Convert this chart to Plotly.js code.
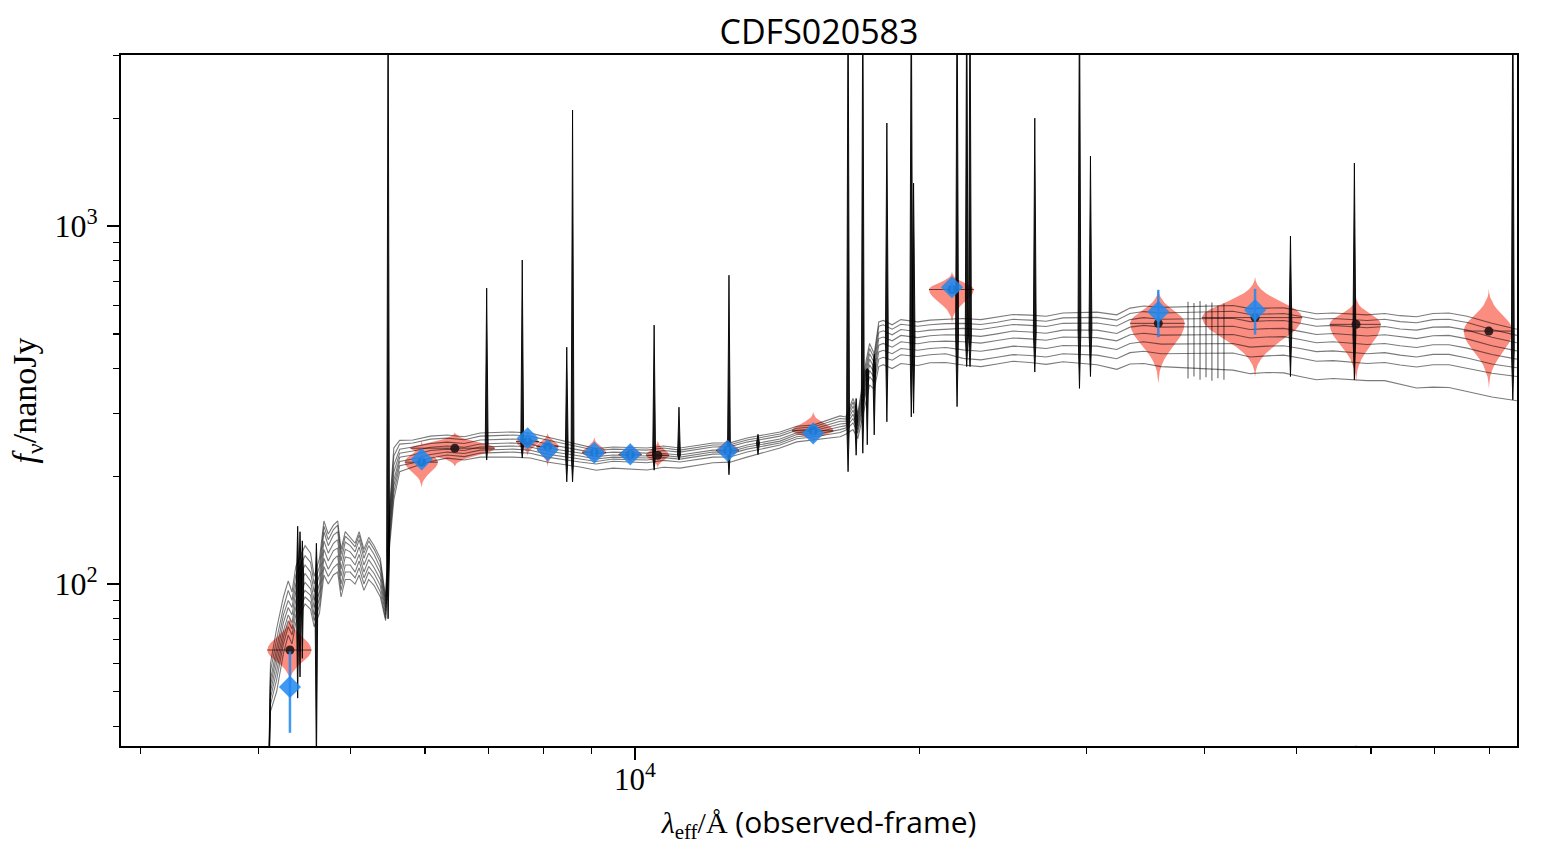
<!DOCTYPE html>
<html>
<head>
<meta charset="utf-8">
<script src="https://cdn.plot.ly/plotly-3.0.1.min.js"></script>
<style>
  html, body { margin: 0; padding: 0; background: #ffffff; }
  #chart { width: 1545px; height: 859px; }
</style>
</head>
<body>
<div id="chart"></div>
<script>
// ---------------------------------------------------------------
// SED fit of CDFS020583: posterior model spectra, model photometry
// (violins + medians) and observed photometry.
// Wavelengths in Angstrom (observed frame), fluxes in nanoJy.
// ---------------------------------------------------------------

// Shared wavelength grid of the model continua
const wave = [
  4090, 4118, 4180, 4250, 4300, 4340, 4380, 4480, 4540, 4580, 4640, 4690, 4740,
  4800, 4850, 4890, 4940, 5000, 5060, 5110, 5170, 5230, 5300, 5380, 5450,
  5500, 5560, 5640,
  5825, 6080, 6329, 6600, 6860, 7430, 7750, 8072, 8748, 9100, 9478, 10297, 10720,
  11158, 12090, 12600, 13134, 14233, 14820, 15425, 16473,
  16700, 17000, 17200, 17550, 17700, 17900, 18100, 18300, 18700, 19100, 19900, 20503,
  21300, 22224, 23200, 24138, 25100, 26155, 27200, 28340, 30780, 32300, 33360, 34500,
  36000, 42870, 44700, 46580, 48500, 50470, 52500, 54690, 59400, 62000, 64380, 67000,
  69750, 72500, 75770, 80500, 85550
];

// Posterior draws of the model continuum
const model1 = [20,60,75,92,102,95,112,128,122,105,118,150,138,146,150,125,140,135,130,140,125,135,128,118,92,
  160,240,252,
  252.5,259,260.8,258,264.3,266,264,257.4,244.5,239,241.4,239.9,243,239.9,247.8,248,255.9,266,276,278,295,
  293,330,300,420,470,440,540,545,530,548,540,546,550,552,548,556,566,564,560,572,575,565,590,598,593,600,588,590,591,580,569,572,565,570,562,558,570,572,560,535,515];
const model2 = [20,57,70,86,96,90,106,120,115,100,112,145,133,142,146,121,136,132,127,137,122,132,125,115,90,
  155,228,246,
  247.7,254,255.6,253,259,260.8,259,252.5,241.4,236,238.2,236.7,240,236.7,244.5,245,252.5,262.5,272.5,274.5,290,
  289,322,294,405,455,428,525,530,515,532,525,530,534,535,531,539,549,546,542,554,556,546,570,577,572,578,566,568,570,560,549,552,545,549,541,537,548,549,538,514,495];
const model3 = [20,54,66,82,90,86,100,113,108,95,106,140,128,137,140,116,131,128,123,133,118,128,121,111,88,
  150,215,238,
  241.4,247,249.2,247,252.5,254.1,252.5,246.1,236.7,231.5,233.7,232.2,236,233.7,241.4,242,249.2,259,269,270.9,285,
  285,314,288,392,440,415,505,510,497,514,507,512,516,518,514,522,531,528,524,535,536,526,548,555,549,553,541,544,545,535,525,528,520,524,516,512,522,523,512,489,472];
const model4 = [20,52,63,78,86,82,95,107,102,90,100,132,122,130,133,110,125,123,118,127,113,122,116,107,86,
  145,205,232,
  235.2,241,243,241,246.1,247.8,246,239.9,232.2,227,229.3,227.8,231.5,229.3,236.7,237,244.5,254.1,264.5,267.5,280,
  281,306,282,380,425,402,485,490,478,495,488,494,497,496,492,500,509,506,502,512,512,501,522,528,522,525,514,517,518,508,498,501,493,497,490,485,494,495,484,463,448];
const model5 = [20,50,60,74,82,78,90,101,97,86,95,125,116,124,126,105,119,118,113,121,108,117,111,103,84,
  140,195,226,
  229.3,236,238.2,236,241.4,243,241.5,235.2,227.8,223.5,226.2,225,228.5,226.2,233.7,234,241.4,250.8,261.5,264.3,275,
  277,298,276,368,410,390,465,470,459,475,469,475,477,475,471,479,487,484,480,490,488,478,497,502,496,498,487,490,491,482,472,475,467,470,463,458,466,466,456,438,425];
const model6 = [20,48,57,71,79,75,86,96,93,82,91,118,110,117,120,100,113,113,108,116,104,112,107,99,82,
  135,188,220,
  223.4,230,233.7,231.5,236.7,238.2,236.5,230.6,223.4,220,223.4,222,225.5,223.4,230.6,231,238.2,247.8,258,260.8,270,
  273,290,270,356,395,378,445,450,440,455,450,455,458,451,447,454,462,459,455,464,462,452,470,475,468,470,459,462,463,455,446,448,440,443,436,431,438,438,428,412,402];
const model7 = [20,46,54,68,76,72,82,92,89,79,87,112,105,111,114,96,108,108,104,111,100,108,103,95,80,
  130,180,214,
  217.8,225,229.3,227,232.2,233.7,232,226.2,219.2,216.5,220.4,218.1,221.5,219.2,226.2,226.5,233.7,244.5,254.5,257.4,265,
  269,282,264,345,380,366,425,430,422,437,432,437,440,427,423,430,437.5,435,431,440,436,426,443,447,440,442,431,434,436,428,419,421,413,416,409,404,410,410,400,388,380];
const model8 = [20,44,50,64,72,68,78,88,85,76,83,106,100,106,108,92,103,103,100,106,96,103,99,92,79,
  125,172,206,
  212.2,220,224.8,222,226.2,226.2,225,219.2,212.2,208,210.8,208.2,212,210.8,218.1,219,226.2,239.9,249.5,252.5,258,
  262,270,255,330,360,350,405,410,400,413,408,415,416,409,405,412,419,416,411,418,410,398,412,413,405,396,387,390,389,380,372,375,370,370,362,353,355,354,345,333,325];
const models = [model1, model2, model3, model4, model5, model6, model7, model8];

// Emission / absorption lines: wavelength, upper and lower flux of the feature
const lineWave   = [4400, 4425, 4450, 4605, 5483, 6970, 7600, 8470, 8590, 10477, 11130, 12570, 13490,
                    16797, 17130, 17410, 17600, 17900, 18460, 19590, 19700, 21900, 22420, 22600,
                    26460, 29500, 30300, 49300, 57600, 84700];
const lineTop    = [145, 140, 132, 130, 5000, 671, 804, 459, 2108, 529, 312, 729, 262,
                    5000, 330, 5000, 400, 440, 1941, 5000, 1318, 5000, 5000, 5000,
                    2003, 5000, 1568, 938, 1500, 5000];
const lineBottom = [48, 55, 62, 30, 80, 222, 225, 193, 193, 208, 222, 202, 230,
                    206, 229, 232, 245, 261, 284, 293, 300, 313, 405, 405,
                    391, 352, 380, 380, 372, 327];

// Paschen-series forest near 4 micron
const forestWave   = [38420, 38980, 39560, 40140, 40720, 41320, 41930];
const forestTop    = [615, 610, 618, 605, 612, 600, 608];
const forestBottom = [375, 380, 372, 378, 370, 376, 372];

// Model photometry per band: effective wavelength, median, posterior extent, filter half-width
const bandWave      = [4318, 5950, 6450, 7700, 8085, 9057, 9886, 10570, 12530, 15430, 21630, 35740, 45230, 57830, 79900];
const modelMed      = [65.4, 219, 239.6, 250, 242, 233, 230, 229, 236, 268, 665, 535, 555, 531.5, 509];
const modelHi       = [82, 252, 265.6, 268, 265, 258, 248, 252, 258, 303, 745, 669, 721, 635, 669];
const modelLo       = [53.2, 185.5, 212.6, 228, 212, 218, 218, 211, 222, 248, 535, 363, 379, 367, 352];
const bandHalfWidth = [232, 240, 662, 215, 220, 265, 280, 300, 350, 780, 1180, 2370, 5500, 3600, 4750];

// Observed photometry
const obsWave = [4318, 5950, 7700, 8085, 9057, 9886, 12530, 15430, 21630, 35740, 45230, 57830];
const obsFlux = [51.6, 223, 255.3, 236.7, 232.7, 230.3, 235.6, 263.6, 675, 576.3, 582.7, 33];
const obsErr  = [13.2, 6, 6, 6, 6, 6, 6, 6, 20, 87, 85, 1];

// ---------------------------------------------------------------
// Violin outline: relative half-width vs. fraction of the way from
// the median to the tip of the distribution (log-flux space).
const PROFILE_T = [0, 0.1, 0.2, 0.3, 0.4, 0.5, 0.6, 0.7, 0.8, 0.9, 1];
const PROFILE_W = [1, 0.96, 0.86, 0.7, 0.52, 0.36, 0.22, 0.12, 0.05, 0.015, 0];

const vx = [], vy = [], mx = [], my = [];
bandWave.forEach((c, i) => {
  const hw = bandHalfWidth[i], med = modelMed[i];
  const lo = f => med * Math.pow(modelLo[i] / med, f);
  const hi = f => med * Math.pow(modelHi[i] / med, f);
  const n = PROFILE_T.length;
  for (let k = n - 1; k >= 0; k--) { vx.push(c + hw * PROFILE_W[k]); vy.push(lo(PROFILE_T[k])); }
  for (let k = 1; k < n; k++)      { vx.push(c + hw * PROFILE_W[k]); vy.push(hi(PROFILE_T[k])); }
  for (let k = n - 2; k >= 0; k--) { vx.push(c - hw * PROFILE_W[k]); vy.push(hi(PROFILE_T[k])); }
  for (let k = 1; k < n; k++)      { vx.push(c - hw * PROFILE_W[k]); vy.push(lo(PROFILE_T[k])); }
  vx.push(null); vy.push(null);
  mx.push(c - hw, c + hw, null); my.push(med, med, null);
});

// continuum level of the middle draw at a given wavelength (log-log interpolation)
function continuumAt(w) {
  const m = model4;
  for (let i = 0; i < wave.length - 1; i++) {
    if (w >= wave[i] && w <= wave[i + 1]) {
      const t = Math.log(w / wave[i]) / Math.log(wave[i + 1] / wave[i]);
      return Math.exp(Math.log(m[i]) + t * Math.log(m[i + 1] / m[i]));
    }
  }
  return m[m.length - 1];
}

// Each line is a thin spindle: widest at the continuum, tapering to both extremes
const SPIKE_HALF_DEX = 0.0015;
const sx = [], sy = [];
lineWave.forEach((w, i) => {
  const base = Math.min(Math.max(continuumAt(w), lineBottom[i]), lineTop[i]);
  const d = Math.pow(10, SPIKE_HALF_DEX);
  sx.push(w, w * d, w, w / d, w, null);
  sy.push(lineBottom[i], base, lineTop[i], base, lineBottom[i], null);
});

const fx = [], fy = [];
forestWave.forEach((w, i) => { fx.push(w, w, null); fy.push(forestBottom[i], forestTop[i], null); });

const traces = [];
traces.push({
  x: vx, y: vy, type: 'scatter', mode: 'lines', fill: 'toself',
  fillcolor: 'rgba(250,128,114,0.9)', line: { width: 0, color: 'rgba(0,0,0,0)' },
  hoverinfo: 'skip', showlegend: false
});
models.forEach(m => traces.push({
  x: wave, y: m, type: 'scatter', mode: 'lines',
  line: { color: 'rgba(0,0,0,0.52)', width: 1.1 }, hoverinfo: 'skip', showlegend: false
}));
traces.push({
  x: fx, y: fy, type: 'scatter', mode: 'lines',
  line: { color: 'rgba(0,0,0,0.55)', width: 1.2 }, hoverinfo: 'skip', showlegend: false
});
traces.push({
  x: sx, y: sy, type: 'scatter', mode: 'lines', fill: 'toself', fillcolor: 'rgba(0,0,0,0.9)',
  line: { color: 'rgba(0,0,0,0.9)', width: 1 }, hoverinfo: 'skip', showlegend: false
});
traces.push({
  x: mx, y: my, type: 'scatter', mode: 'lines',
  line: { color: 'rgba(0,0,0,0.6)', width: 1 }, hoverinfo: 'skip', showlegend: false
});
traces.push({
  x: bandWave, y: modelMed, type: 'scatter', mode: 'markers',
  marker: { symbol: 'circle', size: 9, color: 'rgba(30,18,18,0.88)' }, showlegend: false
});
traces.push({
  x: obsWave, y: obsFlux, type: 'scatter', mode: 'markers',
  marker: { symbol: 'diamond', size: 17, color: 'rgba(30,136,240,0.85)', line: { width: 0 } },
  error_y: { type: 'data', array: obsErr, visible: true, color: 'rgba(30,136,240,0.85)', thickness: 2.5, width: 0 },
  showlegend: false
});

const serif = 'Liberation Serif, DejaVu Serif, serif';
const sans = 'Open Sans, DejaVu Sans, sans-serif';

const layout = {
  width: 1545, height: 859,
  margin: { l: 121, r: 28, t: 55, b: 113 },
  paper_bgcolor: '#ffffff', plot_bgcolor: '#ffffff',
  showlegend: false,
  title: {
    text: 'CDFS020583', font: { family: sans, size: 34, color: '#000000' },
    x: 0.5, xref: 'paper', xanchor: 'center', y: 0.963, yref: 'container', yanchor: 'middle'
  },
  xaxis: {
    type: 'log', range: [3.4567, 4.9323], autorange: false,
    showgrid: false, zeroline: false,
    showline: true, linecolor: '#000000', linewidth: 1.8, mirror: true,
    ticks: 'outside', ticklen: 12, tickwidth: 1.6, tickcolor: '#000000',
    tickmode: 'array', tickvals: [10000], ticktext: ['10<sup>4</sup>'],
    tickfont: { family: serif, size: 31, color: '#000000' },
    ticklabelstandoff: -7,
    minor: {
      tickmode: 'array', ticks: 'outside', ticklen: 6, tickwidth: 1.4, tickcolor: '#000000',
      tickvals: [3000, 4000, 5000, 6000, 7000, 8000, 9000, 20000, 30000, 40000, 50000, 60000, 70000, 80000]
    },
    title: {
      text: '<span style="font-family:Liberation Serif"><i>λ</i><sub>eff</sub>/Å</span> (observed-frame)',
      font: { family: sans, size: 30, color: '#000000' }, standoff: 16
    }
  },
  yaxis: {
    type: 'log', range: [1.5475, 3.478], autorange: false,
    showgrid: false, zeroline: false,
    showline: true, linecolor: '#000000', linewidth: 1.8, mirror: true,
    ticks: 'outside', ticklen: 12, tickwidth: 1.6, tickcolor: '#000000',
    tickmode: 'array', tickvals: [100, 1000], ticktext: ['10<sup>2</sup>', '10<sup>3</sup>'],
    tickfont: { family: serif, size: 32, color: '#000000' },
    ticklabelstandoff: 3,
    minor: {
      tickmode: 'array', ticks: 'outside', ticklen: 6, tickwidth: 1.4, tickcolor: '#000000',
      tickvals: [40, 50, 60, 70, 80, 90, 200, 300, 400, 500, 600, 700, 800, 900, 2000, 3000]
    },
    title: {
      text: '<i>f</i><sub>ν</sub>/nanoJy',
      font: { family: serif, size: 34, color: '#000000' }, standoff: 8
    }
  }
};

Plotly.newPlot('chart', traces, layout, { staticPlot: true, displayModeBar: false });
</script>
</body>
</html>
